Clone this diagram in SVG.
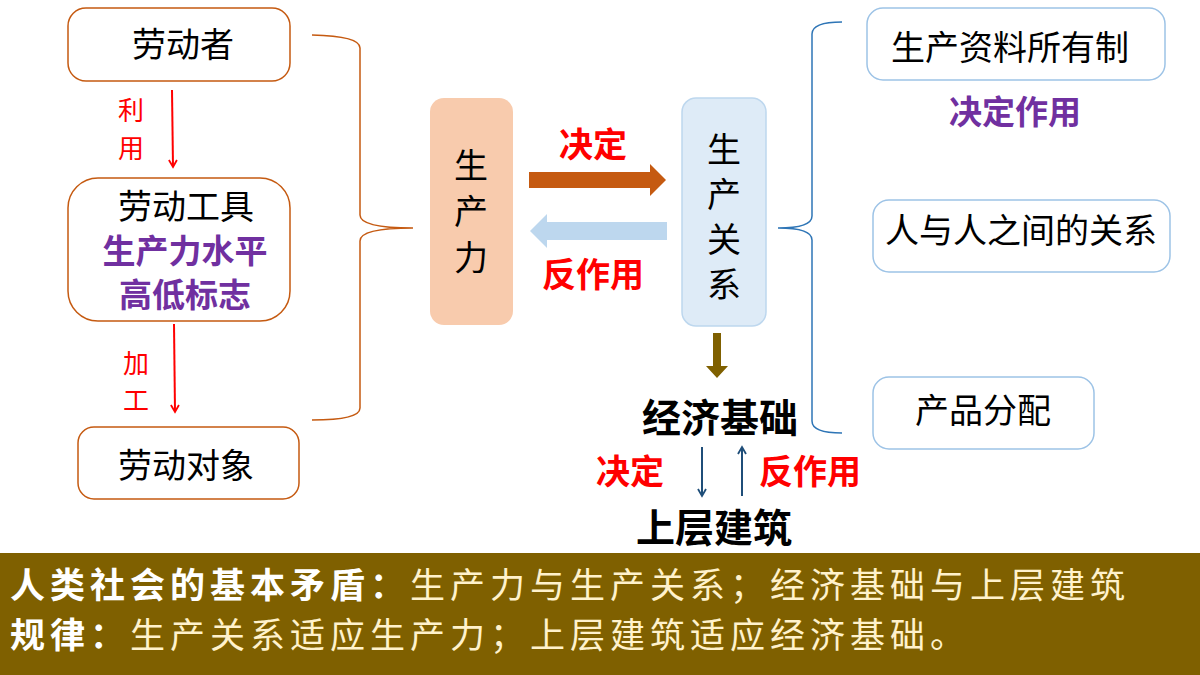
<svg xmlns="http://www.w3.org/2000/svg" width="1200" height="675" viewBox="0 0 1200 675">
<defs>
<style>
text{font-family:"Noto Sans CJK SC",sans-serif}
.k{font-size:34px;fill:#000;text-anchor:middle}
.r{font-size:34px;font-weight:bold;fill:#ff0000;text-anchor:middle}
.p{font-size:33px;font-weight:bold;fill:#7030a0;text-anchor:middle}
.bk{font-size:39px;font-weight:bold;fill:#000;text-anchor:middle}
.lb{fill:#fff;stroke:#c55a11;stroke-width:1.5}
.rb{fill:#fff;stroke:#9dc3e6;stroke-width:1.5}
.sm{font-size:26px;fill:#ff0000;text-anchor:middle}
</style>
<marker id="ar" markerWidth="10" markerHeight="10" refX="8" refY="5" orient="auto" markerUnits="userSpaceOnUse"><path d="M1,1 L8,5 L1,9" fill="none" stroke="#ff0000" stroke-width="1.8"/></marker>
<marker id="ab" markerWidth="10" markerHeight="10" refX="8" refY="5" orient="auto" markerUnits="userSpaceOnUse"><path d="M1,1 L8,5 L1,9" fill="none" stroke="#1f4e79" stroke-width="1.8"/></marker>
</defs>
<rect width="1200" height="675" fill="#fff"/>
<g id="n1"><rect class="lb" x="68" y="8" width="222" height="73" rx="18"/><text class="k" x="183" y="57">劳动者</text></g>
<g id="n2"><rect class="lb" x="68" y="178" width="222" height="143" rx="30"/><text class="k" x="186" y="219">劳动工具</text><text class="p" x="185" y="263">生产力水平</text><text class="p" x="185" y="307">高低标志</text></g>
<g id="n3"><rect class="lb" x="78" y="427" width="221" height="72" rx="16"/><text class="k" x="186" y="478">劳动对象</text></g>
<g id="n4"><rect x="430" y="98" width="83" height="227" rx="14" fill="#f8cbad"/><text class="k" x="471" y="178" font-size="40">生</text><text class="k" x="471" y="224" font-size="40">产</text><text class="k" x="471" y="270" font-size="40">力</text></g>
<g id="n5"><rect x="682" y="98" width="84" height="228" rx="14" fill="#deebf7" stroke="#bdd7ee" stroke-width="1.5"/><text class="k" x="724" y="162" font-size="38">生</text><text class="k" x="724" y="207" font-size="38">产</text><text class="k" x="724" y="252" font-size="38">关</text><text class="k" x="724" y="297" font-size="38">系</text></g>
<g id="n6"><text class="bk" x="720" y="432">经济基础</text></g>
<g id="n7"><text class="bk" x="714" y="542">上层建筑</text></g>
<g id="n8"><rect class="rb" x="867" y="8" width="298" height="72" rx="16"/><text class="k" x="1010" y="60" font-size="31">生产资料所有制</text><text class="p" x="1015" y="124">决定作用</text></g>
<g id="n9"><rect class="rb" x="873" y="200" width="297" height="72" rx="16"/><text class="k" x="1021" y="243" font-size="31">人与人之间的关系</text></g>
<g id="n10"><rect class="rb" x="873" y="377" width="221" height="72" rx="16"/><text class="k" x="983" y="423" font-size="31">产品分配</text></g>
<g id="connectors">
<path d="M312,35 Q360,36 360,48 L360,215 Q360,228 413,228 Q360,228 360,241 L360,408 Q360,420 312,420" fill="none" stroke="#c55a11" stroke-width="1.5"/>
<path d="M842,22 Q812,22 812,34 L812,216 Q812,228 778,228 Q812,228 812,240 L812,421 Q812,433 842,433" fill="none" stroke="#2e75b6" stroke-width="1.5"/>
<line x1="172" y1="90" x2="173" y2="167" stroke="#ff0000" stroke-width="2" marker-end="url(#ar)"/>
<line x1="174" y1="324" x2="175" y2="412" stroke="#ff0000" stroke-width="2" marker-end="url(#ar)"/>
<path d="M529,172 L650,172 L650,164 L666,180 L650,196 L650,188 L529,188 Z" fill="#c55a11"/>
<path d="M667,222 L547,222 L547,214 L530,231 L547,248 L547,240 L667,240 Z" fill="#bdd7ee"/>
<path d="M713,333 L721,333 L721,366 L728,366 L717,378 L706,366 L713,366 Z" fill="#7f6000"/>
<line x1="702" y1="447" x2="702" y2="496" stroke="#1f4e79" stroke-width="2" marker-end="url(#ab)"/>
<line x1="742" y1="496" x2="742" y2="447" stroke="#1f4e79" stroke-width="2" marker-end="url(#ab)"/>
</g>
<text class="sm" x="131" y="120">利</text><text class="sm" x="131" y="158">用</text>
<text class="sm" x="136" y="373">加</text><text class="sm" x="136" y="410">工</text>
<text class="r" x="593" y="157">决定</text>
<text class="r" x="593" y="287">反作用</text>
<text class="r" x="630" y="484">决定</text>
<text class="r" x="810" y="484">反作用</text>
<rect x="0" y="553" width="1200" height="122" fill="#7f6000"/>
<text x="10" y="598" font-size="35" letter-spacing="5"><tspan fill="#fff" font-weight="bold">人类社会的基本矛盾：</tspan><tspan fill="#fff2cc">生产力与生产关系；经济基础与上层建筑</tspan></text>
<text x="10" y="648" font-size="35" letter-spacing="5"><tspan fill="#fff" font-weight="bold">规律：</tspan><tspan fill="#fff2cc">生产关系适应生产力；上层建筑适应经济基础。</tspan></text>
</svg>
